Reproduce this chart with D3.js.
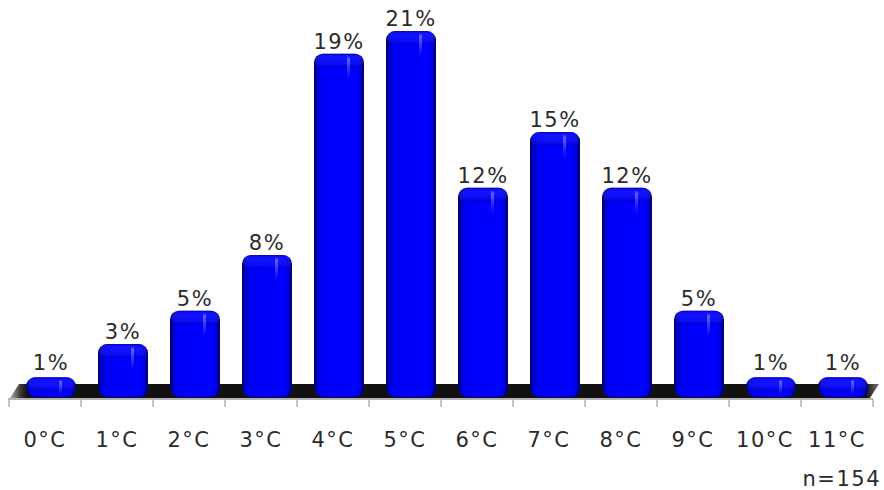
<!DOCTYPE html>
<html>
<head>
<meta charset="utf-8">
<script src="https://cdn.jsdelivr.net/npm/d3@7"></script>
<style>
  body { margin: 0; background: #fff; }
  svg text { font-family: "DejaVu Sans", sans-serif; fill: #2a2a2a; letter-spacing: 1.5px; }
</style>
</head>
<body>
<div id="chart"></div>
<script>
// temperatures (categories) and share of answers in %
const categories = ["0°C", "1°C", "2°C", "3°C", "4°C", "5°C", "6°C", "7°C", "8°C", "9°C", "10°C", "11°C"];
const values = [1.13, 3.04, 4.95, 8.15, 19.7, 21.0, 12.0, 15.2, 12.0, 4.95, 1.13, 1.13];
const valueLabels = ["1%", "3%", "5%", "8%", "19%", "21%", "12%", "15%", "12%", "5%", "1%", "1%"];
const sampleNote = "n=154";

const width = 884, height = 490;

const svg = d3.select("#chart").append("svg")
    .attr("width", width)
    .attr("height", height);

const x = d3.scaleBand()
    .domain(categories)
    .range([9, 873]);

const y = d3.scaleLinear()
    .domain([0, 21])
    .range([397, 31]);

const barW = 50, barOff = 17;

// gradients
const defs = svg.append("defs");

let floorGrad = defs.append("linearGradient").attr("id", "floorGrad");
[[0, "#b0b0b0"], [0.012, "#3a3a3a"], [0.02, "#111"], [0.985, "#111"], [1, "#777"]].forEach(s =>
    floorGrad.append("stop").attr("offset", s[0]).attr("stop-color", s[1]));

let barGrad = defs.append("linearGradient").attr("id", "barGrad");
[[0, "#00006e"], [0.07, "#0000c8"], [0.16, "#0000fa"], [0.85, "#0000ff"], [0.93, "#0000d8"], [1, "#000060"]].forEach(s =>
    barGrad.append("stop").attr("offset", s[0]).attr("stop-color", s[1]));

// small light streak near the top right of each bar
let shineGrad = defs.append("linearGradient").attr("id", "shineGrad")
    .attr("x1", 0).attr("x2", 0).attr("y1", 0).attr("y2", 1);
[[0, "#8080ff", 0.0], [0.15, "#8080ff", 0.7], [1, "#8080ff", 0]].forEach(s =>
    shineGrad.append("stop").attr("offset", s[0]).attr("stop-color", s[1]).attr("stop-opacity", s[2]));

let capGrad = defs.append("linearGradient").attr("id", "capGrad")
    .attr("x1", 0).attr("x2", 0).attr("y1", 0).attr("y2", 1);
[[0, "#000080", 0.6], [0.15, "#3030ff", 0.35], [0.55, "#6060ff", 0.15], [0.8, "#000090", 0.3], [1, "#0000ff", 0]].forEach(s =>
    capGrad.append("stop").attr("offset", s[0]).attr("stop-color", s[1]).attr("stop-opacity", s[2]));

// floor
const y0 = y(0);
svg.append("polygon")
    .attr("points", [[10, y0 + 1], [19, y0 - 13], [879, y0 - 13], [870, y0 + 1]].map(p => p.join(",")).join(" "))
    .attr("fill", "url(#floorGrad)");

// axis line and ticks
svg.append("line")
    .attr("x1", x.range()[0] - 1).attr("x2", x.range()[1])
    .attr("y1", y0 + 2).attr("y2", y0 + 2)
    .attr("stroke", "#b4b4b4").attr("stroke-width", 2);

const tickXs = categories.map(c => x(c)).concat([x.range()[1]]);
svg.selectAll(".tick").data(tickXs).join("line")
    .attr("x1", d => d).attr("x2", d => d)
    .attr("y1", y0 + 2).attr("y2", y0 + 10)
    .attr("stroke", "#b4b4b4").attr("stroke-width", 1.5);

// bars
const bars = svg.selectAll(".bar").data(values).join("g").attr("class", "bar");

bars.append("rect")
    .attr("x", (d, i) => x(categories[i]) + barOff)
    .attr("y", d => y(d))
    .attr("width", barW)
    .attr("height", d => y0 - y(d))
    .attr("rx", 9).attr("ry", 9)
    .attr("fill", "url(#barGrad)");

bars.append("rect")
    .attr("x", (d, i) => x(categories[i]) + barOff + 1)
    .attr("y", d => y(d))
    .attr("width", barW - 2)
    .attr("height", d => Math.min(16, y0 - y(d)))
    .attr("rx", 8).attr("ry", 8)
    .attr("fill", "url(#capGrad)");

bars.append("rect")
    .attr("x", (d, i) => x(categories[i]) + barOff + 33)
    .attr("y", d => y(d) + 2)
    .attr("width", 3)
    .attr("height", d => Math.min(24, y0 - y(d) - 4))
    .attr("fill", "url(#shineGrad)");

// value labels
svg.selectAll(".vlabel").data(values).join("text")
    .attr("x", (d, i) => x(categories[i]) + barOff + barW / 2)
    .attr("y", d => Math.min(y(d) - 5, y0 - 27))
    .attr("text-anchor", "middle")
    .attr("font-size", 21)
    .text((d, i) => valueLabels[i]);

// category labels
svg.selectAll(".clabel").data(categories).join("text")
    .attr("x", d => x(d) + x.bandwidth() / 2)
    .attr("y", 447)
    .attr("text-anchor", "middle")
    .attr("font-size", 21)
    .text(d => d);

svg.append("text")
    .attr("x", 881)
    .attr("y", 486)
    .attr("text-anchor", "end")
    .attr("font-size", 21)
    .text(sampleNote);
</script>
</body>
</html>
